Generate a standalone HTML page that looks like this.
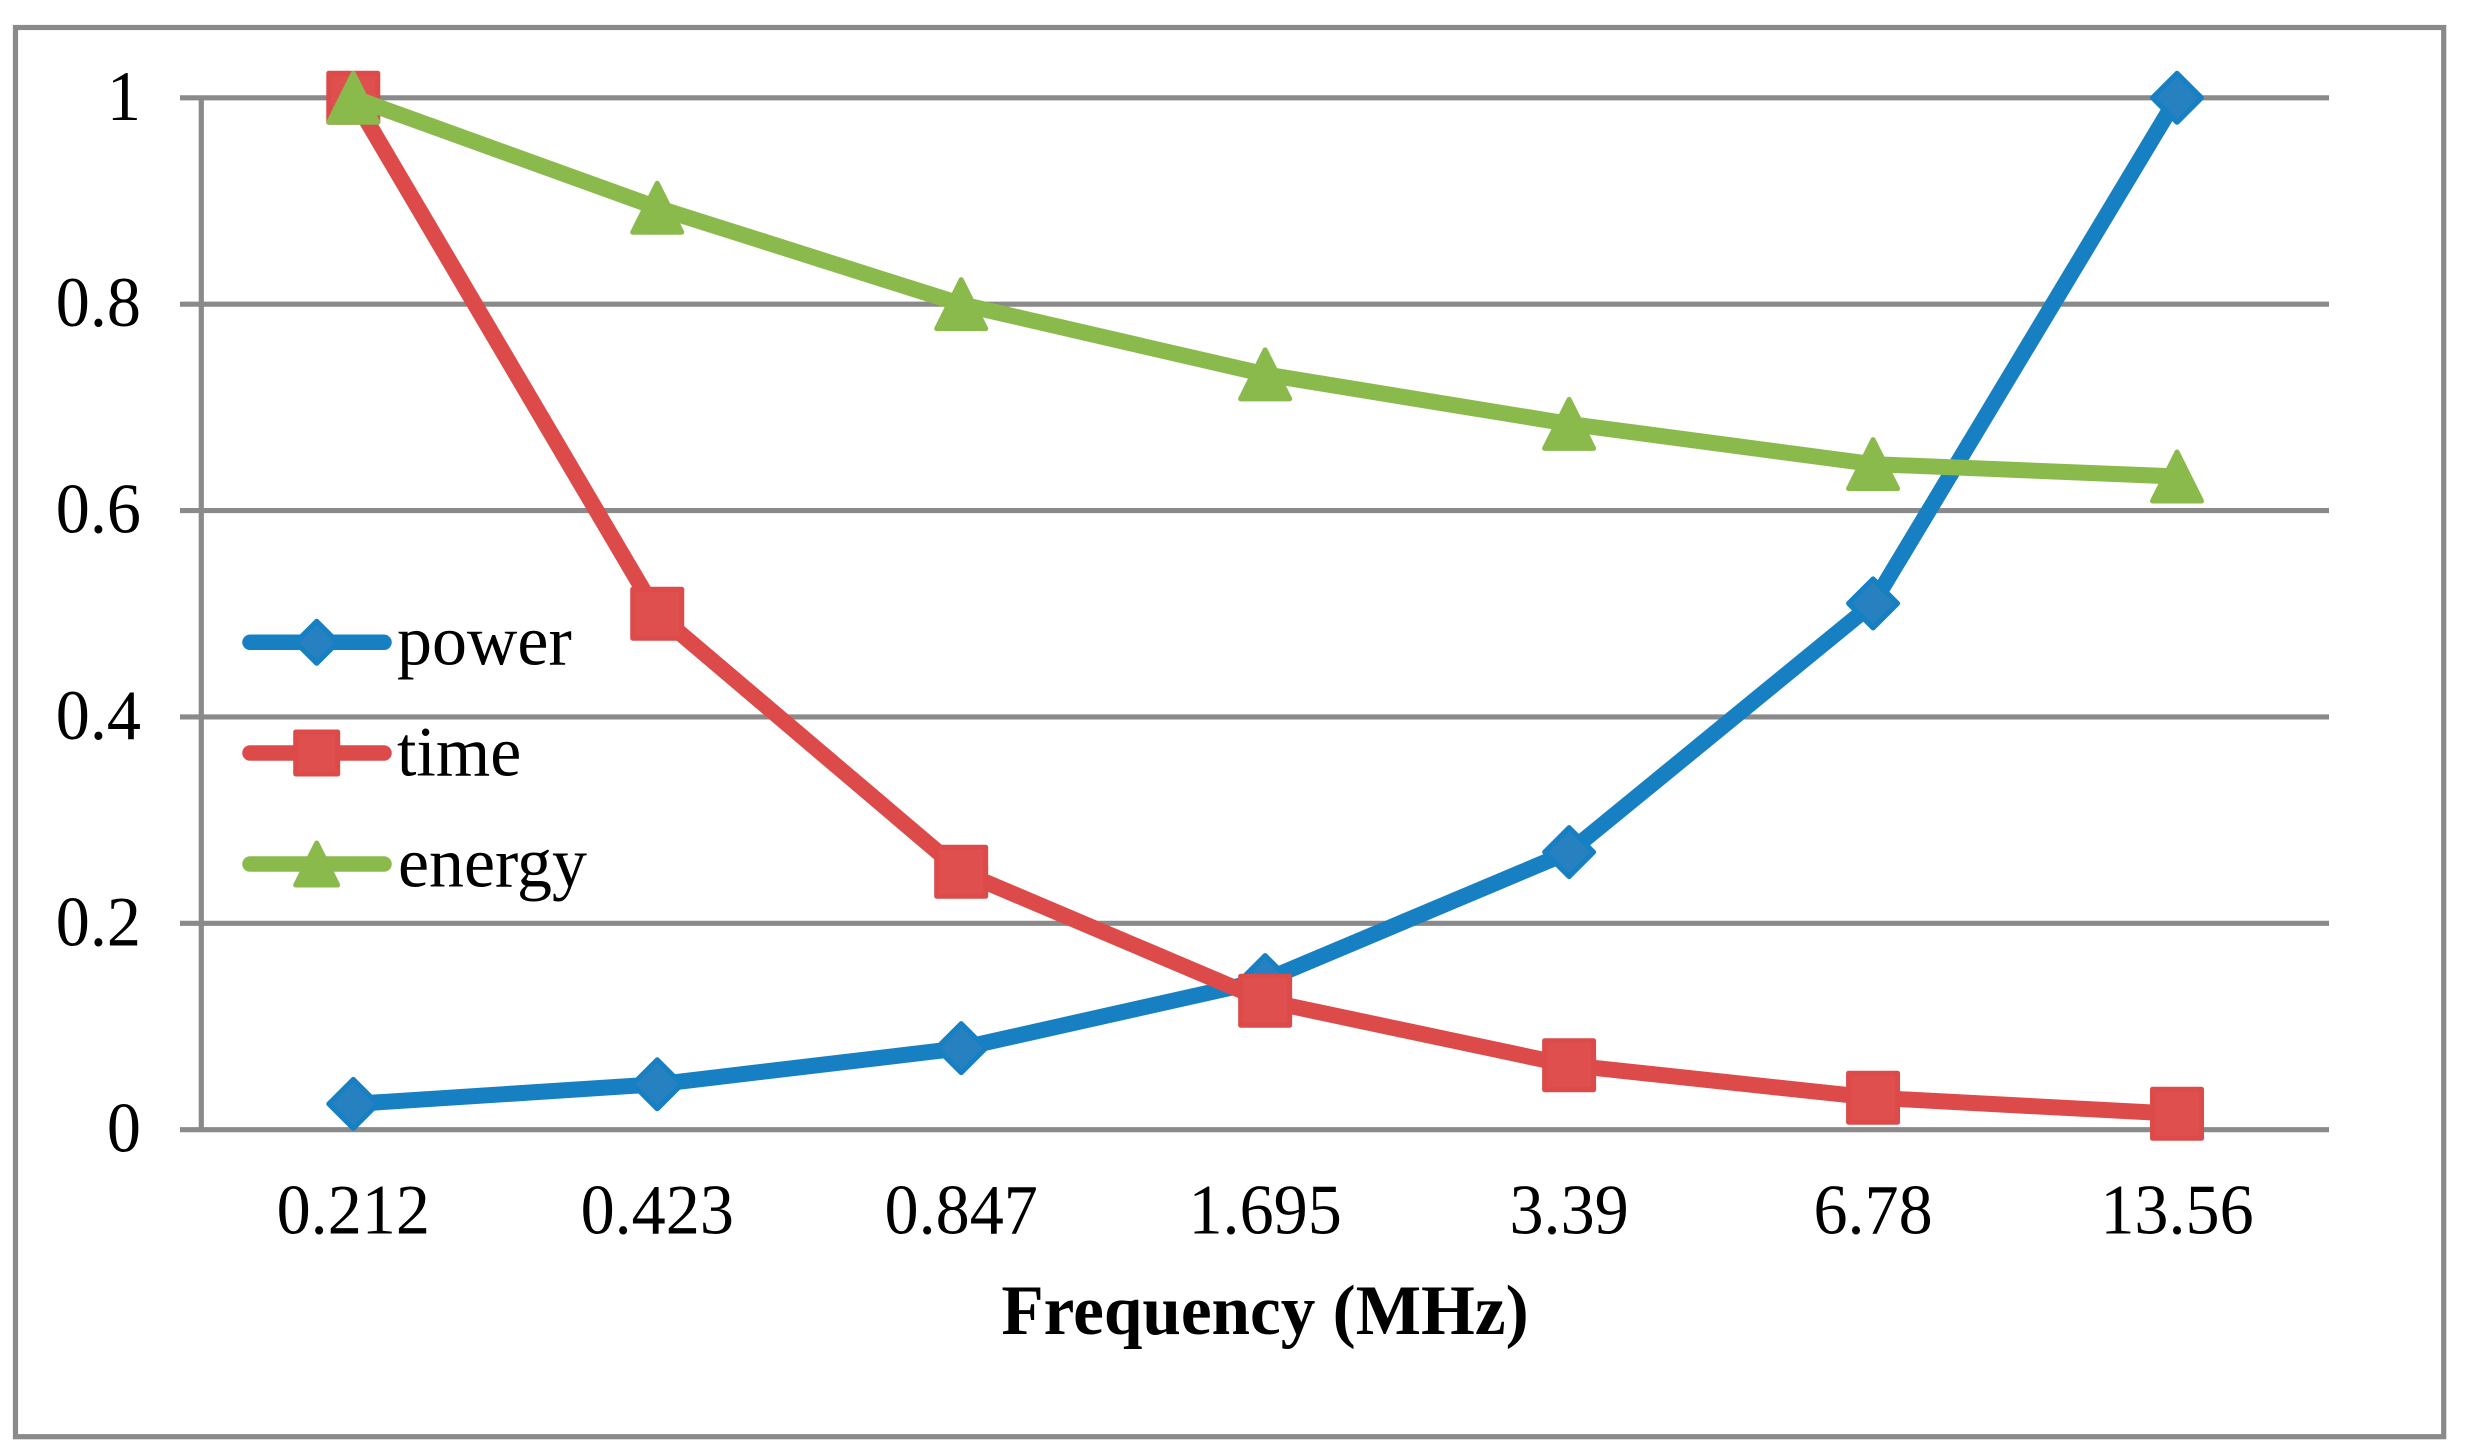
<!DOCTYPE html>
<html lang="en">
<head>
<meta charset="utf-8">
<title>Normalized power, time and energy vs frequency</title>
<style>
html,body{margin:0;padding:0;background:#fff;}
svg{display:block;}
text{font-family:"Liberation Serif",serif;fill:#000;}
</style>
</head>
<body>
<svg id="chart" xmlns="http://www.w3.org/2000/svg" width="2475" height="1453" viewBox="0 0 2475 1453">
  <rect x="0" y="0" width="2475" height="1453" fill="#fff"/>
  <rect x="15.5" y="27.5" width="2428.2" height="1409.2" fill="#fff" stroke="#8a8a8a" stroke-width="5.2"/>
  <g id="grid"></g>
  <g id="yLabels"></g>
  <g id="xLabels"></g>
  <g id="series"></g>
  <g id="legend">
    <text transform="translate(397 664.5) scale(.985 1)" font-size="71">power</text>
    <text transform="translate(397 775.5) scale(.985 1)" font-size="71">time</text>
    <text transform="translate(398 886.5) scale(.985 1)" font-size="71">energy</text>
  </g>
  <text transform="translate(1265 1334) scale(.975 1)" font-size="71" font-weight="700" text-anchor="middle">Frequency (MHz)</text>
</svg>
<script>
const categories = ["0.212", "0.423", "0.847", "1.695", "3.39", "6.78", "13.56"];
const powerValues = [0.025, 0.044, 0.079, 0.145, 0.269, 0.51, 1];
const timeValues = [1, 0.5, 0.25, 0.125, 0.0625, 0.031, 0.0154];
const energyValues = [1, 0.8935, 0.8, 0.732, 0.684, 0.645, 0.633];
const yTickValues = [0, 0.2, 0.4, 0.6, 0.8, 1];
const yTickLabels = ["0", "0.2", "0.4", "0.6", "0.8", "1"];

const NS = "http://www.w3.org/2000/svg";
const plot = { left: 201.3, right: 2329, top: 97.8, bottom: 1129.7, axisStart: 180 };
const colors = {
  power: { line: "#1680c2", fill: "#2780bf" },
  time: { line: "#dc4b49", fill: "#de4f4e" },
  energy: { line: "#8aba4b", fill: "#8bba4c" }
};

function xScale(i) {
  return plot.left + (plot.right - plot.left) * (i + 0.5) / categories.length;
}
function yScale(v) {
  return plot.bottom - (plot.bottom - plot.top) * v;
}
function make(tag, attrs, parent) {
  const el = document.createElementNS(NS, tag);
  for (const k in attrs) el.setAttribute(k, attrs[k]);
  parent.appendChild(el);
  return el;
}
function markerPoints(kind, cx, cy, size) {
  const r = size / 2;
  if (kind === "power") return [[cx, cy - r], [cx + r, cy], [cx, cy + r], [cx - r, cy]];
  if (kind === "time") return [[cx - r, cy - r], [cx + r, cy - r], [cx + r, cy + r], [cx - r, cy + r]];
  return [[cx, cy - r], [cx + r, cy + r], [cx - r, cy + r]];
}
function drawMarker(kind, cx, cy, size, parent) {
  const stroke = 5;
  const pts = markerPoints(kind, cx, cy, size - stroke);
  return make("polygon", {
    points: pts.map(p => p.join(",")).join(" "),
    fill: colors[kind].fill,
    stroke: colors[kind].line,
    "stroke-width": stroke,
    "stroke-linejoin": "round"
  }, parent);
}

const grid = document.getElementById("grid");
const yAxis = make("line", { x1: plot.left, x2: plot.left, y1: plot.top, y2: plot.bottom, stroke: "#8a8a8a", "stroke-width": 5.2 }, grid);



yTickValues.forEach(function (v, i) {
  const gridLine = make("line", { x1: plot.axisStart, x2: plot.right, y1: yScale(v), y2: yScale(v), stroke: "#8a8a8a", "stroke-width": 5.2 }, grid);
  
  
  const label = make("text", { transform: "translate(141 " + (yScale(v) + 22) + ") scale(.96 1)", "font-size": 71, "text-anchor": "end" }, document.getElementById("yLabels"));
  label.textContent = yTickLabels[i];
  
  
});

categories.forEach(function (c, i) {
  const label = make("text", { transform: "translate(" + xScale(i) + " 1233.5) scale(.96 1)", "font-size": 71, "text-anchor": "middle" }, document.getElementById("xLabels"));
  label.textContent = c;
  
  
});

function drawSeries(kind, values) {
  const group = make("g", {}, document.getElementById("series"));
  
  
  const line = make("polyline", {
    points: values.map((v, i) => xScale(i) + "," + yScale(v)).join(" "),
    fill: "none",
    stroke: colors[kind].line,
    "stroke-width": 16,
    "stroke-linejoin": "round",
    "stroke-linecap": "round"
  }, group);
  
  
  values.forEach(function (v, i) {
    const m = drawMarker(kind, xScale(i), yScale(v), 54, group);
    
    
  });
}
drawSeries("power", powerValues);
drawSeries("time", timeValues);
drawSeries("energy", energyValues);

const legendRows = [["power", 642.3], ["time", 753], ["energy", 864]];
legendRows.forEach(function (row) {
  const legend = document.getElementById("legend");
  const key = make("line", { x1: 250, x2: 384, y1: row[1], y2: row[1], stroke: colors[row[0]].line, "stroke-width": 15.5, "stroke-linecap": "round" }, legend);
  
  
  const m = drawMarker(row[0], 316.7, row[1], 47, legend);
  
  
});
</script>
</body>
</html>
